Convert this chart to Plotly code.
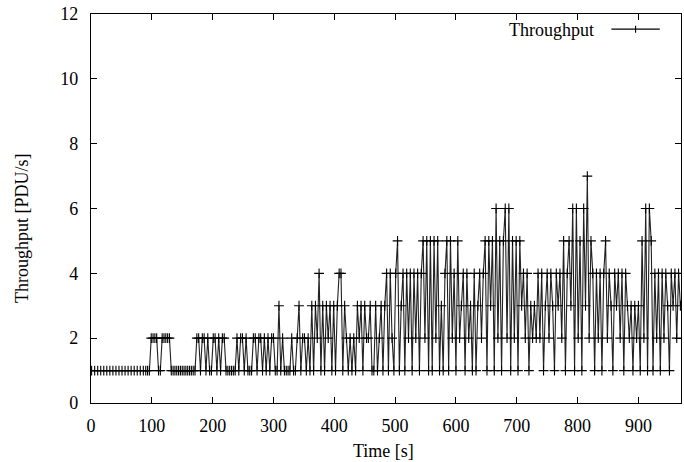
import plotly.graph_objects as go

# ---- data ----
# initial flat part, sampled every 5 s
t_start = [1, 6, 11, 16, 21, 26, 31, 36, 41, 46, 51, 56, 61, 66, 71, 76, 81, 86]
v_start = [1] * 18

# from t = 90 s on, samples every 3 s; one list per 30 s block
b090 = [1, 1, 1, 2, 2, 2, 2, 1, 1, 2]
b120 = [2, 2, 2, 2, 1, 1, 1, 1, 1, 1]
b150 = [1, 1, 1, 1, 1, 1, 1, 1, 2, 2]
b180 = [1, 2, 2, 1, 2, 1, 1, 2, 2, 1]
b210 = [2, 1, 2, 2, 1, 1, 1, 1, 1, 1]
b240 = [2, 1, 2, 2, 1, 2, 1, 1, 1, 2]
b270 = [2, 1, 2, 2, 1, 2, 1, 2, 1, 2]
b300 = [2, 1, 1, 3, 1, 2, 1, 1, 1, 1]
b330 = [2, 1, 1, 2, 3, 1, 2, 2, 1, 2]
b360 = [1, 3, 1, 3, 2, 4, 1, 3, 1, 3]
b390 = [2, 3, 1, 3, 1, 3, 4, 4, 1, 3]
b420 = [2, 1, 2, 1, 2, 1, 3, 2, 3, 1]
b450 = [3, 2, 2, 3, 1, 1, 3, 1, 2, 3]
b480 = [1, 3, 4, 1, 4, 2, 1, 4, 5, 1]
b510 = [3, 4, 1, 4, 2, 4, 1, 4, 2, 4]
b540 = [1, 4, 5, 2, 5, 1, 5, 1, 5, 2]
b570 = [5, 1, 3, 1, 4, 5, 1, 5, 2, 4]
b600 = [1, 5, 2, 3, 4, 1, 4, 2, 3, 1]
b630 = [4, 1, 3, 4, 2, 4, 5, 1, 5, 3]
b660 = [5, 1, 6, 2, 5, 1, 5, 6, 2, 6]
b690 = [1, 5, 2, 5, 1, 5, 3, 4, 2, 4]
b720 = [1, 3, 2, 3, 2, 4, 2, 4, 1, 3]
b750 = [4, 2, 4, 3, 1, 4, 3, 4, 2, 5]
b780 = [1, 4, 5, 3, 6, 1, 6, 2, 5, 1]
b810 = [6, 3, 7, 2, 5, 4, 1, 4, 2, 4]
b840 = [1, 4, 5, 2, 4, 3, 1, 4, 3, 4]
b870 = [2, 4, 1, 4, 3, 2, 3, 1, 3, 2]
b900 = [3, 1, 5, 2, 6, 1, 6, 5, 1, 4]
b930 = [2, 4, 1, 4, 2, 4, 3, 1, 4, 3]
b960 = [4, 2, 4, 3]

blocks = [b090, b120, b150, b180, b210, b240, b270, b300, b330, b360,
          b390, b420, b450, b480, b510, b540, b570, b600, b630, b660,
          b690, b720, b750, b780, b810, b840, b870, b900, b930, b960]

x_ticks = [0, 100, 200, 300, 400, 500, 600, 700, 800, 900]
y_ticks = [0, 2, 4, 6, 8, 10, 12]

values = list(v_start)
times = list(t_start)
for k, blk in enumerate(blocks):
    for j, v in enumerate(blk):
        times.append(90 + 30 * k + 3 * j)
        values.append(v)

FONT = "Liberation Serif"

fig = go.Figure()
fig.add_trace(go.Scatter(
    x=times, y=values, mode="lines+markers", name="Throughput",
    line=dict(color="#222222", width=1.1),
    marker=dict(symbol="cross-thin", size=7, line=dict(color="black", width=1.1), color="black"),
    showlegend=False,
))

axis_common = dict(
    showline=True, linecolor="black", linewidth=1.3, mirror="allticks",
    ticks="inside", ticklen=6, tickwidth=1.2, tickcolor="black",
    showgrid=False, zeroline=False,
    tickfont=dict(family=FONT, size=18, color="black"),
)

fig.update_xaxes(range=[0, 970], tickvals=x_ticks, ticklabelstandoff=6, **axis_common)
fig.update_yaxes(range=[0, 12], tickvals=y_ticks, ticklabelstandoff=8, **axis_common)

fig.update_layout(
    width=684, height=462,
    margin=dict(l=91, r=3, t=14, b=59),
    paper_bgcolor="white", plot_bgcolor="white",
    font=dict(family=FONT, size=18, color="black"),
    annotations=[
        dict(text="Time [s]", xref="paper", yref="paper", x=0.495, y=-0.123,
             showarrow=False, xanchor="center", yanchor="middle",
             font=dict(family=FONT, size=18)),
        dict(text="Throughput [PDU/s]", xref="paper", yref="paper", x=-0.117, y=0.45,
             showarrow=False, textangle=-90, xanchor="center", yanchor="middle",
             font=dict(family=FONT, size=18)),
        dict(text="Throughput", xref="paper", yref="paper", x=0.856, y=0.958,
             showarrow=False, xanchor="right", yanchor="middle",
             font=dict(family=FONT, size=18)),
    ],
    shapes=[
        dict(type="line", xref="paper", yref="paper", x0=0.882, x1=0.964, y0=0.961, y1=0.961,
             line=dict(color="black", width=1.1)),
        dict(type="line", xref="paper", yref="paper", x0=0.923, x1=0.923, y0=0.952, y1=0.970,
             line=dict(color="black", width=1.1)),
    ],
)

fig.write_html("out.html")
